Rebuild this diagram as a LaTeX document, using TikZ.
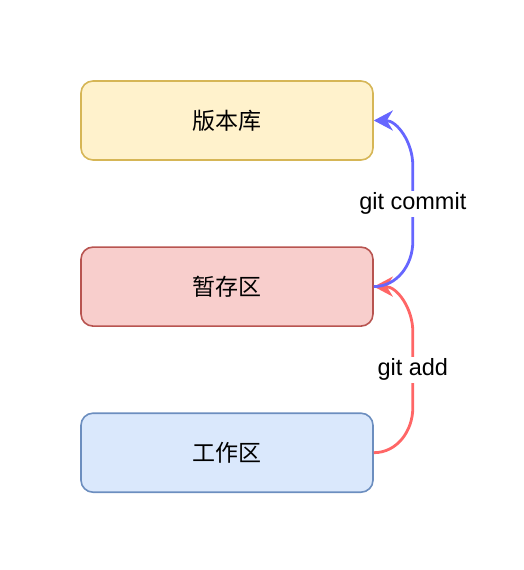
\documentclass[tikz,border=0pt]{standalone}
\usepackage{fontspec}
\setmainfont{Liberation Sans}
\newfontfamily\cjk{Noto Sans CJK SC}
\usetikzlibrary{arrows.meta,positioning,calc}

\definecolor{repofill}{HTML}{FFF2CC}
\definecolor{repoline}{HTML}{D6B656}
\definecolor{stagefill}{HTML}{F8CECC}
\definecolor{stageline}{HTML}{B85450}
\definecolor{workfill}{HTML}{DAE8FC}
\definecolor{workline}{HTML}{6C8EBF}
\definecolor{commitline}{HTML}{6666FF}
\definecolor{addline}{HTML}{FF6666}

\begin{document}
\begin{tikzpicture}[x=1pt,y=-1pt,node distance=85.5pt,
                    >={Stealth[length=19pt,width=20pt,inset=6pt]},
                    area node/.style={rectangle,rounded corners=12pt,line width=1.6pt,
                      minimum width=292pt,minimum height=79pt,font=\cjk\fontsize{23}{28}\selectfont},
                    flow/.style={->,line width=2.8pt,shorten >=0pt},
                    every label node/.style={fill=white,text=black,inner sep=2pt,font=\fontsize{23.5}{28}\selectfont}]

  \useasboundingbox (0,0) rectangle (524,570);

  \node[area node,fill=repofill,draw=repoline] (repo) at (227,120.5) {版本库};
  \node[area node,fill=stagefill,draw=stageline] (stage) [below=of repo] {暂存区};
  \node[area node,fill=workfill,draw=workline] (work) [below=of stage] {工作区};

  \draw[flow,addline] (work.east) to[out=0,in=-90] ++(39,-45)
    -- node[every label node] {git add} ($(stage.east)+(39,45)$) to[out=90,in=0] (stage.east);
  \draw[flow,commitline] (stage.east) to[out=0,in=-90] ++(39,-45)
    -- node[every label node] {git commit} ($(repo.east)+(39,45)$) to[out=90,in=0] (repo.east);
\end{tikzpicture}
\end{document}
